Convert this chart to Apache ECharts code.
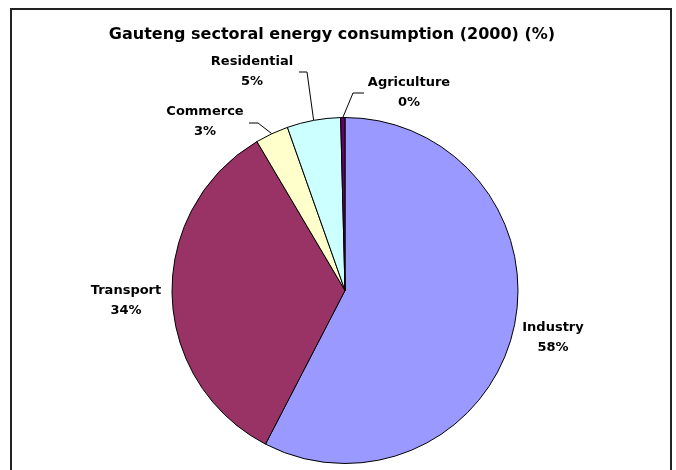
<!DOCTYPE html>
<html>
<head>
<meta charset="utf-8">
<script src="https://cdn.jsdelivr.net/npm/echarts@6/dist/echarts.min.js"></script>
<style>
  html, body { margin: 0; padding: 0; background: #fff; }
  #chart { width: 676px; height: 470px; }
</style>
</head>
<body>
<div id="chart"></div>
<script>
// Gauteng sectoral energy consumption, year 2000, share in %
const sectors = ['Industry', 'Transport', 'Commerce', 'Residential', 'Agriculture'];
const shares = [57.6, 33.9, 3.1, 5.0, 0.4];
const sectorColors = ['#9999FF', '#993366', '#FFFFCC', '#CCFFFF', '#660066'];

// label anchor (centre of the two-line label) and where its leader line bends
const labelPlacement = {
  Industry:    { x: 553, y: 338 },
  Transport:   { x: 126, y: 301 },
  Commerce:    { x: 205, y: 122, lineStart: [249, 123], bend: [258, 123] },
  Residential: { x: 252, y: 72,  lineStart: [299, 72],  bend: [307, 72] },
  Agriculture: { x: 409, y: 93,  lineStart: [364, 93],  bend: [353, 93] }
};

const FONT = 'DejaVu Sans';

const chart = echarts.init(document.getElementById('chart'), null, { renderer: 'canvas' });

chart.setOption({
  animation: false,
  backgroundColor: '#fff',
  title: {
    text: 'Gauteng sectoral energy consumption (2000) (%)',
    left: 327,
    top: 22,
    textAlign: 'center',
    textStyle: { fontFamily: FONT, fontWeight: 'bold', fontSize: 16, color: '#000' }
  },
  graphic: [{
    type: 'rect',
    shape: { x: 11, y: 9, width: 660, height: 470 },
    style: { fill: 'none', stroke: '#222', lineWidth: 2 },
    silent: true,
    z: 0
  }],
  series: [{
    type: 'pie',
    center: [345, 290.5],
    radius: 173,
    startAngle: 90,
    clockwise: true,
    avoidLabelOverlap: false,
    minAngle: 0,
    data: sectors.map((name, i) => ({
      name,
      value: shares[i],
      itemStyle: { color: sectorColors[i] },
      labelLine: { show: !!labelPlacement[name].lineStart }
    })),
    itemStyle: { borderColor: '#000', borderWidth: 1 },
    label: {
      show: true,
      position: 'outside',
      formatter: p => p.name + '\n' + Math.round(p.value) + '%',
      fontFamily: FONT,
      fontWeight: 'bold',
      fontSize: 13,
      lineHeight: 20,
      color: '#000',
      align: 'center'
    },
    labelLine: {
      show: true,
      lineStyle: { color: '#000', width: 1 }
    },
    emphasis: { disabled: true },
    labelLayout: function (params) {
      const name = sectors[params.dataIndex];
      const pos = labelPlacement[name];
      const out = { x: pos.x, y: pos.y, align: 'center', verticalAlign: 'middle' };
      if (pos.lineStart && params.labelLinePoints) {
        const rim = params.labelLinePoints[0];
        out.labelLinePoints = [rim, pos.bend, pos.lineStart];
      }
      return out;
    }
  }]
});
</script>
</body>
</html>
